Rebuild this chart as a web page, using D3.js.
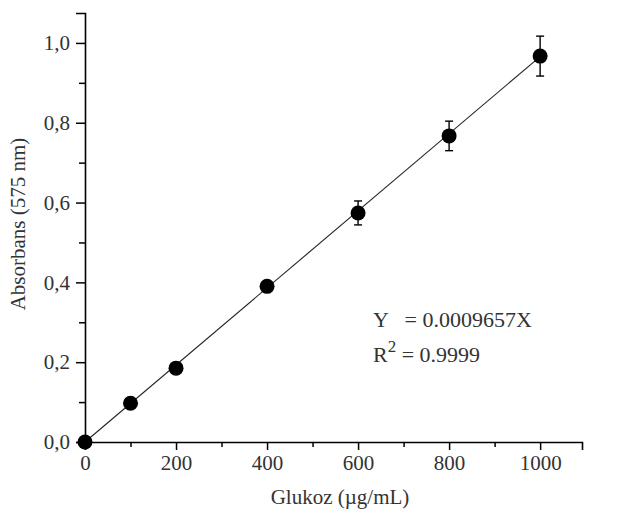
<!DOCTYPE html>
<html><head><meta charset="utf-8">
<script src="https://cdn.jsdelivr.net/npm/d3@7"></script>
<style>body{margin:0;background:#fff}text{font-family:"Liberation Serif","Times New Roman",serif;fill:#333}</style>
</head><body><svg id="c" width="625" height="521"></svg>
<script>
const concentrations=[0,100,200,400,600,800,1000];
const absorbance=[0,0.097,0.185,0.390,0.574,0.767,0.967];
const errors=[0,0,0,0.013,0.03,0.037,0.05];
const xTicks=[0,200,400,600,800,1000];
const yTicks=[0,0.2,0.4,0.6,0.8,1.0];
const slope=0.0009657;

const svg=d3.select("#c");
const x=d3.scaleLinear().domain([0,1092]).range([85,582]);
const y=d3.scaleLinear().domain([0,1.075]).range([442,13]);

const xAxis=d3.axisBottom(x).tickValues(d3.range(0,1001,100)).tickSize(8).tickPadding(3)
  .tickFormat(d=>xTicks.includes(d)?d:"");
const gx=svg.append("g").attr("transform","translate(0,442)").call(xAxis);
gx.select(".domain").attr("stroke","#000").attr("stroke-width",1.6);
gx.selectAll(".tick line").attr("stroke","#000").attr("stroke-width",1.5).attr("y2",d=>xTicks.includes(d)?8:5);
gx.selectAll(".tick text").style("font-size","21px").attr("fill","#333").attr("dy","0.8em");

const yAxis=d3.axisLeft(y).tickValues(d3.range(0,11).map(i=>i/10)).tickSize(9).tickPadding(6)
  .tickFormat(d=>yTicks.some(t=>Math.abs(t-d)<1e-9)?d3.format(".1f")(d).replace(".",","):"");
const gy=svg.append("g").attr("transform","translate(85,0)").call(yAxis);
gy.select(".domain").attr("stroke","#000").attr("stroke-width",1.6);
gy.selectAll(".tick line").attr("stroke","#000").attr("stroke-width",1.5)
  .attr("x2",d=>yTicks.some(t=>Math.abs(t-d)<1e-9)?-9:-6);
gy.selectAll(".tick text").style("font-size","21px").attr("fill","#333");

// fit line
svg.append("line").attr("x1",x(0)).attr("y1",y(0)).attr("x2",x(1000)).attr("y2",y(slope*1000))
  .attr("stroke","#222").attr("stroke-width",1.1);

const pts=concentrations.map((c,i)=>({c,a:absorbance[i],e:errors[i]}));
const eb=svg.append("g").attr("stroke","#000").attr("stroke-width",1.4);
pts.filter(p=>p.e>0).forEach(p=>{
  eb.append("line").attr("x1",x(p.c)).attr("x2",x(p.c)).attr("y1",y(p.a+p.e)).attr("y2",y(p.a-p.e));
  [p.a+p.e,p.a-p.e].forEach(v=>eb.append("line").attr("x1",x(p.c)-4).attr("x2",x(p.c)+4).attr("y1",y(v)).attr("y2",y(v)));
});
svg.append("g").selectAll("circle").data(pts).join("circle")
  .attr("cx",p=>x(p.c)).attr("cy",p=>y(p.a)).attr("r",7.5).attr("fill","#000");

svg.append("text").attr("x",340).attr("y",504).attr("text-anchor","middle").style("font-size","21px").text("Glukoz (µg/mL)");
svg.append("text").attr("transform","translate(25,224) rotate(-90)").attr("text-anchor","middle").style("font-size","21px").text("Absorbans (575 nm)");

svg.append("text").attr("x",373).attr("y",327).style("font-size","22px").style("white-space","pre").text("Y   = 0.0009657X");
const r=svg.append("text").attr("x",373).attr("y",362).style("font-size","22px");
r.append("tspan").text("R");
r.append("tspan").attr("dy",-10).style("font-size","17px").text("2");
r.append("tspan").attr("dy",10).text(" = 0.9999");
</script></body></html>
